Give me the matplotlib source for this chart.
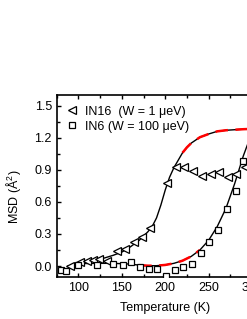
import matplotlib
matplotlib.use('Agg')
import matplotlib.pyplot as plt

plt.rcParams['font.family'] = ['Liberation Sans', 'DejaVu Sans']
plt.rcParams['mathtext.fontset'] = 'custom'
plt.rcParams['mathtext.rm'] = 'Liberation Sans'
plt.rcParams['mathtext.it'] = 'Liberation Sans'

# IN16 data (triangles)
in16_T = [90, 102, 110, 117, 124, 133, 144, 154, 164, 173, 183, 202, 213, 222, 232, 242, 253, 262, 272, 282, 292]
in16_msd = [0.0, 0.035, 0.047, 0.056, 0.066, 0.047, 0.14, 0.16, 0.225, 0.275, 0.36, 0.78, 0.93, 0.925, 0.89, 0.84, 0.86, 0.88, 0.83, 0.86, 0.925]

# IN6 data (squares)
in6_T = [80, 86, 99, 121, 140, 151, 161, 171, 181, 190, 201, 211, 220, 231, 241, 251, 261, 271, 281, 290]
in6_msd = [-0.037, -0.044, 0.01, 0.01, 0.019, 0.006, 0.037, -0.012, -0.028, -0.028, -0.095, -0.037, -0.012, 0.019, 0.125, 0.228, 0.34, 0.53, 0.70, 0.98]

# guide curves
fit16_T = [88, 100, 110, 120, 130, 140, 150, 160, 170, 180, 185, 190, 195, 200, 205, 210, 215, 220, 225, 230, 240, 250, 260, 270, 280, 290, 300, 325]
fit16_msd = [0.0, 0.02, 0.035, 0.055, 0.075, 0.10, 0.13, 0.18, 0.24, 0.32, 0.37, 0.45, 0.57, 0.71, 0.83, 0.92, 0.99, 1.06, 1.11, 1.15, 1.205, 1.235, 1.26, 1.27, 1.275, 1.28, 1.283, 1.285]
fit6_T = [90, 100, 120, 140, 160, 170, 180, 190, 200, 210, 220, 230, 240, 250, 260, 270, 280, 285, 290, 295, 300, 310, 325]
fit6_msd = [0.0, 0.022, 0.025, 0.025, 0.018, 0.008, 0.003, 0.003, 0.01, 0.025, 0.05, 0.09, 0.15, 0.24, 0.37, 0.54, 0.77, 0.9, 1.03, 1.14, 1.2, 1.26, 1.28]

red16_start = 217
red6_range = (170, 248)

fig = plt.figure(figsize=(2.47, 3.19), dpi=100)
ax = fig.add_axes([0.2296, 0.1326, 0.8785, 0.5696])

ax.plot(fit16_T, fit16_msd, color='black', lw=1.0, zorder=2)
ax.plot(fit6_T, fit6_msd, color='black', lw=1.0, zorder=2)

# red dashed overlay on part of each curve
r16 = [(t, m) for t, m in zip(fit16_T, fit16_msd) if t >= red16_start]
ax.plot([p[0] for p in r16], [p[1] for p in r16], color='red', lw=1.8,
        dashes=(5, 3), zorder=3)
r6 = [(t, m) for t, m in zip(fit6_T, fit6_msd) if red6_range[0] <= t <= red6_range[1]]
ax.plot([p[0] for p in r6], [p[1] for p in r6], color='red', lw=1.8,
        dashes=(5, 3), zorder=3)

ax.plot(in16_T, in16_msd, linestyle='none', marker='<', markersize=5.5,
        markerfacecolor='white', markeredgecolor='black', markeredgewidth=0.9,
        label='IN16  (W = 1 μeV)', zorder=4)
ax.plot(in6_T, in6_msd, linestyle='none', marker='s', markersize=4.5,
        markerfacecolor='white', markeredgecolor='black', markeredgewidth=0.9,
        label='IN6 (W = 100 μeV)', zorder=4)

ax.set_xlim(75, 325)
ax.set_ylim(-0.1, 1.6)
ax.set_xticks([100, 150, 200, 250, 300])
ax.set_xticks([75, 125, 175, 225, 275, 325], minor=True)
ax.set_yticks([0.0, 0.3, 0.6, 0.9, 1.2, 1.5])
ax.set_yticks([0.15, 0.45, 0.75, 1.05, 1.35], minor=True)
ax.set_yticklabels(['0.0', '0.3', '0.6', '0.9', '1.2', '1.5'])
ax.tick_params(which='both', direction='in', top=True, right=True, labelsize=9, width=1)
ax.tick_params(which='major', length=3)
ax.tick_params(which='minor', length=2)
for s in ax.spines.values():
    s.set_linewidth(1.2)

ax.set_xlabel('Temperature (K)', fontsize=9, labelpad=6)
ax.set_ylabel('MSD (Å$^2$)', fontsize=9)
ax.yaxis.set_label_coords(-0.155, 0.44)

ax.legend(loc='upper left', bbox_to_anchor=(0.0, 0.99), frameon=False, fontsize=9,
          handlelength=1.0, handletextpad=0.6, labelspacing=0.25, borderaxespad=0.3)

fig.savefig('out.png', dpi=100)
